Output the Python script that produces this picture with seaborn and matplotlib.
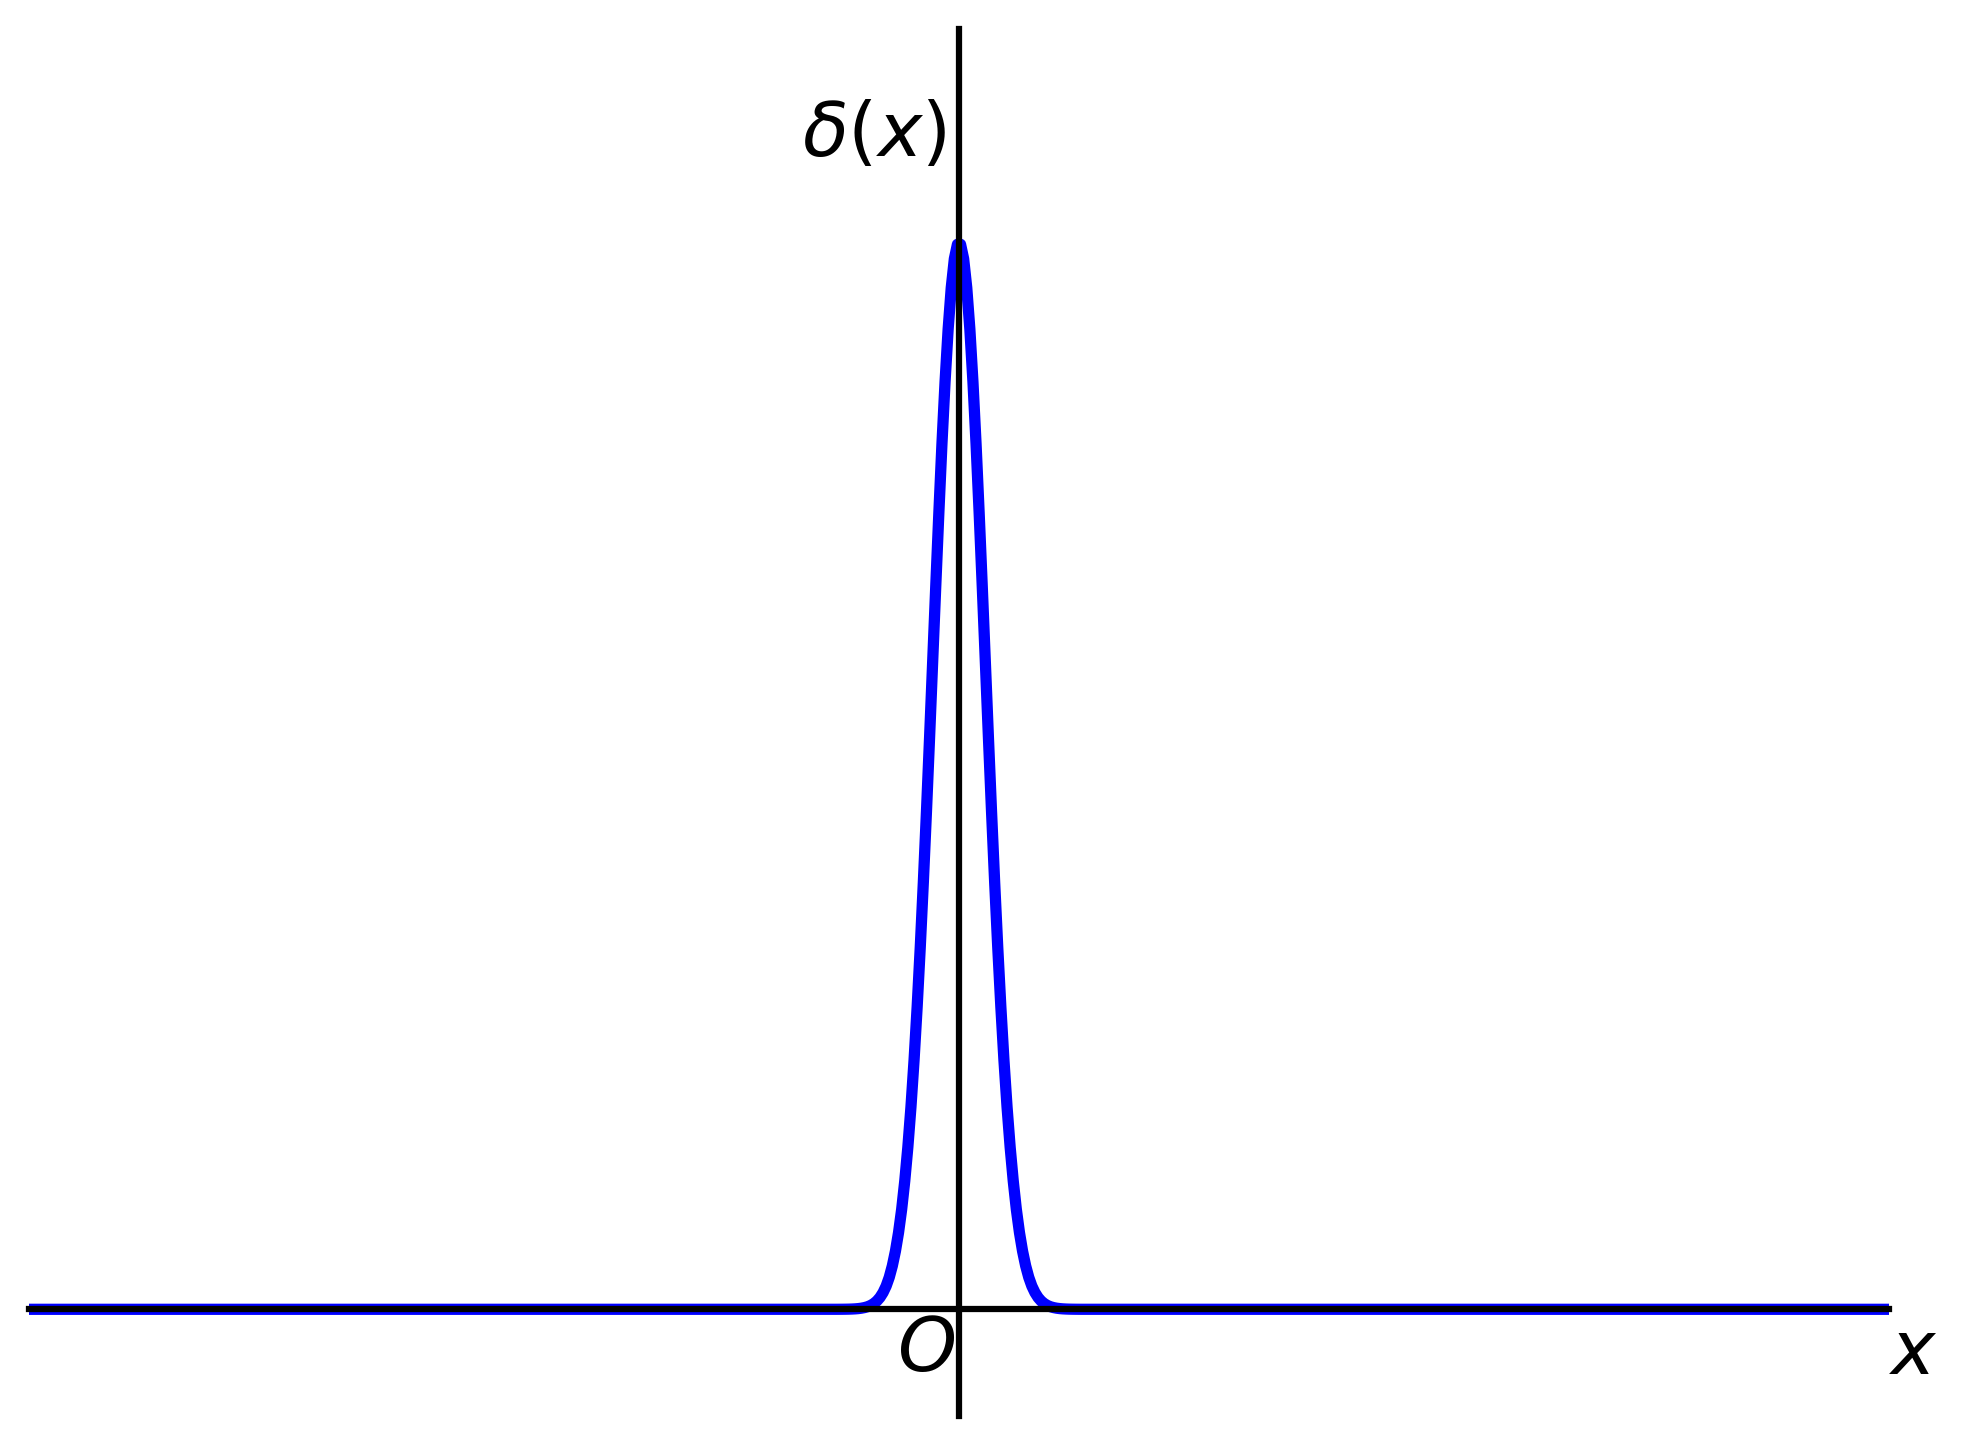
import matplotlib
matplotlib.use("Agg")
import matplotlib.pyplot as plt
import seaborn as sns
import numpy as np
import pandas as pd

# Curve samples (right half; mirrored for the left half)
x_half = [0.005, 0.015, 0.025, 0.035, 0.045, 0.055, 0.065, 0.075, 0.085, 0.095,
          0.105, 0.115, 0.125, 0.135, 0.145, 0.155, 0.165, 0.175, 0.185, 0.195,
          0.205, 0.215, 0.225, 0.235, 0.245, 0.255, 0.265, 0.275, 0.285, 0.295,
          0.305, 0.315, 0.325, 0.335, 0.345, 0.355, 0.365, 0.375, 0.385, 0.395,
          3.0]
y_half = [4.991, 4.923, 4.788, 4.594, 4.346, 4.056, 3.732, 3.388, 3.033, 2.677,
          2.331, 2.002, 1.696, 1.417, 1.167, 0.948, 0.760, 0.601, 0.468, 0.360,
          0.273, 0.204, 0.150, 0.109, 0.0785, 0.0555, 0.0388, 0.0267, 0.0181, 0.0121,
          0.0080, 0.0052, 0.0033, 0.0021, 0.0013, 0.0008, 0.0005, 0.0003, 0.0002, 0.0001,
          0.0]

x_vals = [-v for v in x_half[::-1]] + x_half
y_vals = y_half[::-1] + y_half

x_limits = (-3.0, 3.0)
y_limits = (-0.5, 6.0)

y_label = r"$\delta(x)$"
x_label = r"$x$"
origin_label = r"$O$"

sns.set_style("white")
plt.rcParams["font.family"] = ["DejaVu Sans"]
plt.rcParams["mathtext.fontset"] = "dejavusans"
plt.rcParams["text.color"] = "black"

DPI = 300
fig = plt.figure(figsize=(1968 / DPI, 1446 / DPI), dpi=DPI)
L, R, T, B = 29, 1889, 29, 1416
ax = fig.add_axes([L / 1968, (1446 - B) / 1446, (R - L) / 1968, (B - T) / 1446])

df = pd.DataFrame({"x": x_vals, "y": y_vals})
sns.lineplot(data=df, x="x", y="y", ax=ax, color="#0000ff", linewidth=2.7,
             sort=True, estimator=None, zorder=2)

ax.set_xlim(*x_limits)
ax.set_ylim(*y_limits)

for s in ["top", "right"]:
    ax.spines[s].set_visible(False)
ax.spines["left"].set_position(("data", 0))
ax.spines["bottom"].set_position(("data", 0))
for s in ["left", "bottom"]:
    ax.spines[s].set_linewidth(1.5)
    ax.spines[s].set_color("black")
    ax.spines[s].set_zorder(3)

ax.set_xticks([])
ax.set_yticks([])
ax.set_xlabel("")
ax.set_ylabel("")
ax.patch.set_alpha(0)

fs = 18
ax.annotate(y_label, xy=(0, 5.50), xytext=(-3.0, 0), textcoords="offset points",
            ha="right", va="center", fontsize=fs, color="black")
ax.annotate(origin_label, xy=(0, -0.192), xytext=(-1.0, 0), textcoords="offset points",
            ha="right", va="center", fontsize=fs, color="black")
ax.text(3.08, -0.205, x_label, ha="center", va="center", fontsize=fs,
        clip_on=False, color="black")

fig.savefig("out.png", dpi=DPI)
